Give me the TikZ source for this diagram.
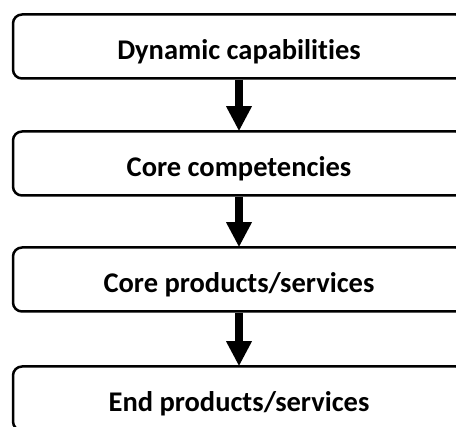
\documentclass[tikz,border=0pt]{standalone}
\usepackage{fontspec}
\setmainfont{Carlito}[RawFeature=-liga]
\usetikzlibrary{arrows.meta}
\begin{document}
\begin{tikzpicture}[x=1pt,y=-1pt,
  box/.style={draw=black, line width=2.5pt, rounded corners=9pt, fill=white,
    minimum width=452pt, minimum height=64pt, inner sep=0pt,
    text height=26pt, text depth=0pt,
    font=\fontsize{28.5}{34}\selectfont\bfseries},
  flow/.style={line width=8pt, -{Triangle[width=24pt,length=25pt]}, shorten >=-1pt}]
\useasboundingbox (0,0) rectangle (456,427);
\clip (0,0) rectangle (456,427);
\node[box] (b1) at (239,46.5) {Dynamic capabilities};
\node[box] (b2) at (239,163.5) {Core competencies};
\node[box] (b3) at (239,279.5) {Core products/services};
\node[box] (b4) at (239,398.5) {End products/services};
\draw[flow] (b1.south) -- (b2.north);
\draw[flow] (b2.south) -- (b3.north);
\draw[flow] (b3.south) -- (b4.north);
\end{tikzpicture}
\end{document}
